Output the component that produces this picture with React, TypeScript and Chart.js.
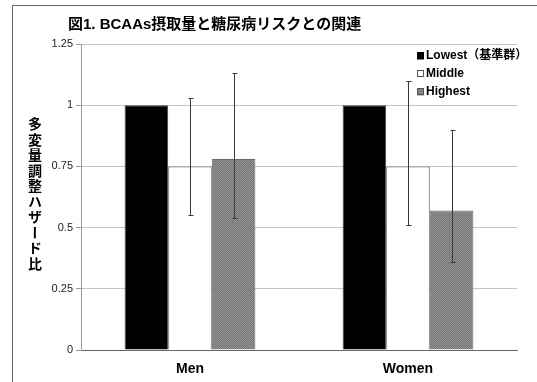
import React, { useEffect, useRef } from 'react';
import { Chart, registerables } from 'chart.js';

Chart.register(...registerables);

const categories = ['Men', 'Women'];
const seriesNames = ['Lowest（基準群）', 'Middle', 'Highest'];
const lowestValues = [1, 1];
const middleValues = [0.75, 0.75];
const highestValues = [0.78, 0.57];
const middleLower = [0.55, 0.51];
const middleUpper = [1.03, 1.1];
const highestLower = [0.54, 0.36];
const highestUpper = [1.13, 0.9];
const yTickValues = [0, 0.25, 0.5, 0.75, 1, 1.25];
const yTickLabels = ['0', '0.25', '0.5', '0.75', '1', '1.25'];
const titleText = '図1. BCAAs摂取量と糖尿病リスクとの関連';
const yTitleText = '多変量調整ハザード比';

const FONT = '"Liberation Sans", Arial, "Noto Sans CJK JP", sans-serif';

function makePattern(ctx: CanvasRenderingContext2D) {
  const c = document.createElement('canvas');
  c.width = 2;
  c.height = 2;
  const g = c.getContext('2d')!;
  g.fillStyle = '#767676';
  g.fillRect(0, 0, 2, 2);
  g.fillStyle = '#929292';
  g.fillRect(0, 0, 1, 1);
  g.fillRect(1, 1, 1, 1);
  return ctx.createPattern(c, 'repeat')!;
}

export default function App() {
  const ref = useRef<HTMLCanvasElement | null>(null);

  useEffect(() => {
    const canvas = ref.current!;
    const ctx = canvas.getContext('2d')!;
    const pattern = makePattern(ctx);

    const errors: Record<number, { lo: number[]; hi: number[] }> = {
      1: { lo: middleLower, hi: middleUpper },
      2: { lo: highestLower, hi: highestUpper },
    };

    const errorBarPlugin = {
      id: 'errorBars',
      afterDatasetsDraw(chart: any) {
        const c = chart.ctx;
        const y = chart.scales.y;
        c.save();
        c.strokeStyle = '#3a3a3a';
        c.lineWidth = 1;
        Object.keys(errors).forEach((k) => {
          const di = Number(k);
          const meta = chart.getDatasetMeta(di);
          meta.data.forEach((bar: any, i: number) => {
            const x = Math.round(bar.x) + 0.5;
            const yl = Math.round(y.getPixelForValue(errors[di].lo[i])) + 0.5;
            const yh = Math.round(y.getPixelForValue(errors[di].hi[i])) + 0.5;
            c.beginPath();
            c.moveTo(x, yl);
            c.lineTo(x, yh);
            c.moveTo(x - 2, yl);
            c.lineTo(x + 3, yl);
            c.moveTo(x - 2, yh);
            c.lineTo(x + 3, yh);
            c.stroke();
          });
        });
        c.restore();
      },
    };

    const titleLegendPlugin = {
      id: 'titleLegend',
      afterDraw(chart: any) {
        const c = chart.ctx;
        c.save();
        c.fillStyle = '#000';
        c.textBaseline = 'middle';
        c.textAlign = 'left';
        c.font = `bold 15px ${FONT}`;
        c.fillText(titleText, 68, 25);

        const ds = chart.data.datasets;
        const rowY = [56, 74, 92];
        ds.forEach((d: any, i: number) => {
          const yy = rowY[i];
          c.fillStyle = d.backgroundColor;
          c.fillRect(417, yy - 3.5, 7, 7);
          c.strokeStyle = i === 0 ? '#000' : '#555';
          c.lineWidth = 1;
          c.strokeRect(417.5, yy - 3.5, 6, 6);
          c.fillStyle = '#000';
          c.font = `bold 12px ${FONT}`;
          c.fillText(d.label, 426, yy);
        });
        c.restore();
      },
    };

    const chart = new Chart(canvas, {
      type: 'bar',
      data: {
        labels: categories,
        datasets: [
          {
            label: seriesNames[0],
            data: lowestValues,
            backgroundColor: '#000000',
            borderColor: '#444444',
            borderWidth: 1,
          },
          {
            label: seriesNames[1],
            data: middleValues,
            backgroundColor: '#ffffff',
            borderColor: '#666666',
            borderWidth: 1,
          },
          {
            label: seriesNames[2],
            data: highestValues,
            backgroundColor: pattern as any,
            borderColor: '#6a6a6a',
            borderWidth: 1,
          },
        ],
      },
      options: {
        responsive: false,
        animation: false,
        devicePixelRatio: 1,
        layout: { padding: { left: 0, right: 20, top: 44, bottom: 0 } },
        datasets: { bar: { categoryPercentage: 0.6, barPercentage: 1 } },
        plugins: {
          legend: { display: false },
          tooltip: { enabled: false },
          title: { display: false },
        },
        scales: {
          x: {
            grid: { display: false, drawTicks: false },
            border: { display: true, color: '#666666' },
            ticks: {
              color: '#000',
              font: { family: FONT, size: 14, weight: 'bold' },
              padding: 11,
            },
            afterFit(scale: any) {
              scale.height = 32;
            },
          },
          y: {
            min: 0,
            max: 1.25,
            afterBuildTicks(scale: any) {
              scale.ticks = yTickValues.map((v) => ({ value: v }));
            },
            grid: { color: '#c4c4c4', tickLength: 5, tickColor: '#999999' },
            border: { display: true, color: '#999999' },
            ticks: {
              color: '#222',
              font: { family: FONT, size: 11 },
              padding: 3,
              callback: (v: any) => {
                const i = yTickValues.indexOf(Number(v));
                return i >= 0 ? yTickLabels[i] : '';
              },
            },
            afterFit(scale: any) {
              scale.width = 81;
            },
          },
        },
      },
      plugins: [errorBarPlugin, titleLegendPlugin],
    });

    return () => chart.destroy();
  }, []);

  return (
    <div style={{ position: 'absolute', left: 0, top: 0, width: 537, height: 382, overflow: 'hidden', background: '#fff' }}>
      <div
        style={{
          position: 'absolute',
          left: 12,
          top: 5,
          width: 600,
          height: 500,
          borderLeft: '1px solid #666',
          borderTop: '1px solid #666',
        }}
      />
      <canvas ref={ref} width={537} height={382} style={{ position: 'absolute', left: 0, top: 0, width: 537, height: 382 }} />
      <div
        style={{
          position: 'absolute',
          left: 28,
          top: 117,
          writingMode: 'vertical-rl',
          fontFamily: '"Noto Sans CJK JP", sans-serif',
          fontWeight: 'bold',
          fontSize: 14,
          letterSpacing: '1.5px',
          lineHeight: '14px',
          color: '#000',
        }}
      >
        {yTitleText}
      </div>
    </div>
  );
}
